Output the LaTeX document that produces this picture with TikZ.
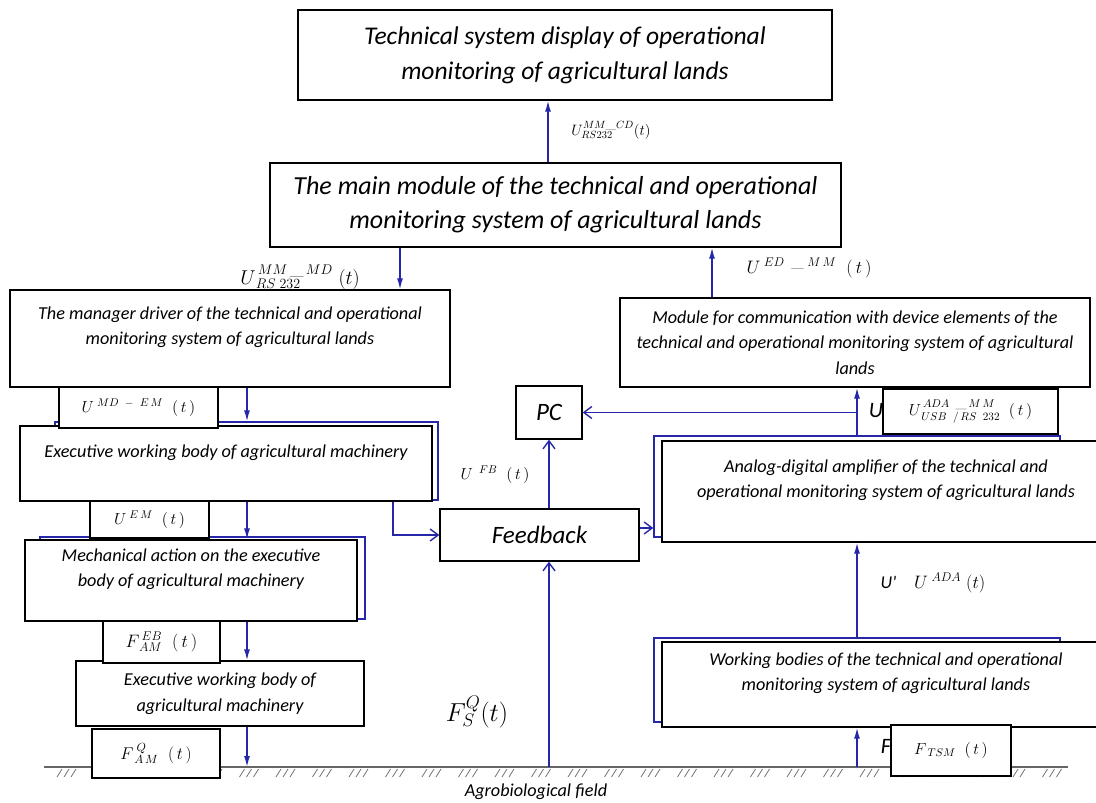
\RequirePackage{fix-cm}
\documentclass[tikz,border=0pt]{standalone}
\usepackage{fontspec}
\newfontfamily\calib{Carlito}
\usetikzlibrary{arrows.meta, calc, positioning}

\definecolor{wireblue}{RGB}{38,38,168}

\tikzset{
  blk/.style={draw=black, line width=1.4pt, fill=white, align=center, inner sep=0pt,
    font=\calib\itshape\fontsize{18.2}{25.5}\selectfont},
  shad/.style={draw=wireblue, line width=1.4pt, inner sep=0pt},
  lblbox/.style={draw=black, line width=1.3pt, fill=white, inner sep=0pt,
    font=\fontsize{16}{18}\selectfont},
  sym/.style={inner sep=0pt, font=\fontsize{16}{18}\selectfont},
  wire/.style={draw=wireblue, line width=1.4pt},
  sig/.style={wire, -{Latex[length=11pt,width=6pt]}},
  sigo/.style={wire, -{Straight Barb[length=8pt,width=12pt,line width=1.4pt]}},
  ground/.style={draw=black!60, line width=1.2pt},
  hatch/.style={draw=black!55, line width=0.8pt},
}

\begin{document}
\begin{tikzpicture}[x=1pt, y=-1pt]
\useasboundingbox (0,0) rectangle (1096,803);

% x positions of the signal lines
\coordinate (xl) at (247,0);
\coordinate (xm) at (400,0);
\coordinate (xr) at (712,0);
\coordinate (xt) at (548,0);
\coordinate (xf) at (549,0);
\coordinate (xb) at (393,0);
\coordinate (gnd) at (0,767);

% agrobiological field
\draw[ground] (44,767) -- (1068,767);
\foreach \hx in {57,93.5,...,1050}
  \foreach \k in {0,7,14}
    \draw[hatch] (\hx+\k,777) -- ++(5,-8);

% blue frames behind the blocks
\node[shad, minimum width=383, minimum height=78] (exeS) at (246.5,461) {};
\node[shad, minimum width=325, minimum height=82] (mechS) at (202.5,578) {};
\node[shad, minimum width=406, minimum height=101] (adaS) at (857,486.5) {};
\node[shad, minimum width=406, minimum height=84] (wbS) at (857,680) {};

% blocks
\node[blk, font=\calib\itshape\fontsize{25.5}{35}\selectfont,
  minimum width=534, minimum height=90] (top) at (565,55)
  {Technical system display of operational\\monitoring of agricultural lands};
\node[blk, font=\calib\itshape\fontsize{26}{34}\selectfont,
  minimum width=571, minimum height=84] (main) at (555.5,205)
  {The main module of the technical and operational\\monitoring system of agricultural lands};
\node[blk, minimum width=440, minimum height=97] (drv) at (230,338.5)
  {The manager driver of the technical and operational\\monitoring system of agricultural lands\\ \mbox{}};
\node[blk, minimum width=470, minimum height=89] (mod) at (855,342.5)
  {Module for communication with device elements of the\\technical and operational monitoring system of agricultural\\lands};
\node[blk, minimum width=412, minimum height=75] (exe) at (226,463.5)
  {Executive working body of agricultural machinery\\ \mbox{}};
\node[blk, minimum width=332, minimum height=81] (mech) at (191,580.5)
  {Mechanical action on the executive\\body of agricultural machinery\\ \mbox{}};
\node[blk, minimum width=288, minimum height=65] (exe2) at (220,693.5)
  {Executive working body of\\agricultural machinery};
\node[blk, font=\calib\itshape\fontsize{25}{28}\selectfont,
  minimum width=66, minimum height=53] (pc) at (549,412.5) {PC};
\node[blk, font=\calib\itshape\fontsize{25}{28}\selectfont,
  minimum width=199, minimum height=52] (fb) at (539.5,535) {Feedback};
\node[blk, minimum width=448, minimum height=101] (ada) at (886,491.5)
  {Analog-digital amplifier of the technical and\\operational monitoring system of agricultural lands\\ \mbox{}};
\node[blk, minimum width=448, minimum height=85] (wb) at (886,684.5)
  {Working bodies of the technical and operational\\monitoring system of agricultural lands\\ \mbox{}};

% signal lines
\draw[sig] (main.north -| xt) -- (top.south -| xt);
\draw[sig] (main.south -| xm) -- (drv.north -| xm);
\draw[sig] (mod.north -| xr) -- (main.south -| xr);
\draw[sig] (drv.south -| xl) -- (exeS.north -| xl);
\draw[sig] (exe.south -| xl) -- (mech.north -| xl);
\draw[sig] (mech.south -| xl) -- (exe2.north -| xl);
\draw[sig] (exe2.south -| xl) -- (gnd -| xl);
\draw[sigo] (exe.south -| xb) |- (fb.west);
\draw[sigo] (fb.north -| pc.south) -- (pc.south);
\draw[sigo] (gnd -| xf) -- (fb.south -| xf);
\coordinate (fbo) at ($(fb.east)+(0,-7)$);
\draw[sigo] (fbo) -- (fbo -| adaS.west);
\draw[sig] (adaS.north) -- (mod.south -| adaS.north);
\draw[sigo] (adaS.north |- pc.east) -- (pc.east);
\draw[sig] (wbS.north) -- (ada.south -| wbS.north);
\draw[sig] (gnd -| adaS.north) -- (wb.south -| adaS.north);

% cut off letters under the label boxes
\node[sym, font=\calib\itshape\fontsize{22}{24}\selectfont] (cutU) at (876,411) {U};
\node[sym, font=\calib\itshape\fontsize{22}{24}\selectfont] (cutF) at (886,746) {F};

% label boxes
\node[lblbox, minimum width=159, minimum height=41] (lMDEM) at (138.5,407.5)
  {$U^{\;MD\;\;-\;\;E\,M}\;\;(\,t\,)$};
\node[lblbox, minimum width=119, minimum height=37] (lEM) at (149.5,519.5)
  {$U^{\;E\,M}\;\;(\,t\,)$};
\node[lblbox, font=\fontsize{18}{20}\selectfont, minimum width=117, minimum height=42] (lEB) at (161.5,642)
  {$F^{\,EB}_{\,AM}\;\;(\,t\,)$};
\node[lblbox, font=\fontsize{17}{20}\selectfont, minimum width=128, minimum height=49] (lQ) at (156,753.5)
  {$F^{\;Q}_{\;A\,M}\;\;(\,t\,)$};
\node[lblbox, minimum width=175, minimum height=45] (lADA) at (970.5,411.5)
  {$U^{\,ADA\;\;\_\,M\,M}_{\,USB\;\;/\,RS\;\;232}\;\;(\,t\,)$};
\node[lblbox, minimum width=120, minimum height=51] (lTSM) at (951,750.5)
  {$F_{\;TSM}\;\;(\,t\,)$};

% signal names
\node[sym, font=\fontsize{15}{17}\selectfont] (lCD) at (611,130) {$U^{MM\_CD}_{RS232}(t)$};
\node[sym, font=\fontsize{20}{22}\selectfont] (lMD) at (300,277) {$U^{\,MM\,\_\,MD}_{\,RS\;232}\;(t)$};
\node[sym, font=\fontsize{18}{20}\selectfont] (lED) at (809,268) {$U^{\;ED\;\;\_\;M\,M}\;\;(\,t\,)$};
\node[sym] (lFB) at (495,475) {$U^{\;\;FB}\;\;(\,t\,)$};
\node[sym, font=\fontsize{26}{28}\selectfont] (lFS) at (477,712) {$F_S^Q(t)$};
\node[sym, font=\fontsize{18}{20}\selectfont] (lUA) at (933,583)
  {{\calib\itshape U'}\quad$U^{\;ADA}\;(t)$};
\node[sym, font=\calib\itshape\fontsize{18.2}{20}\selectfont] (agro) at (536,792) {Agrobiological field};
\end{tikzpicture}
\end{document}
